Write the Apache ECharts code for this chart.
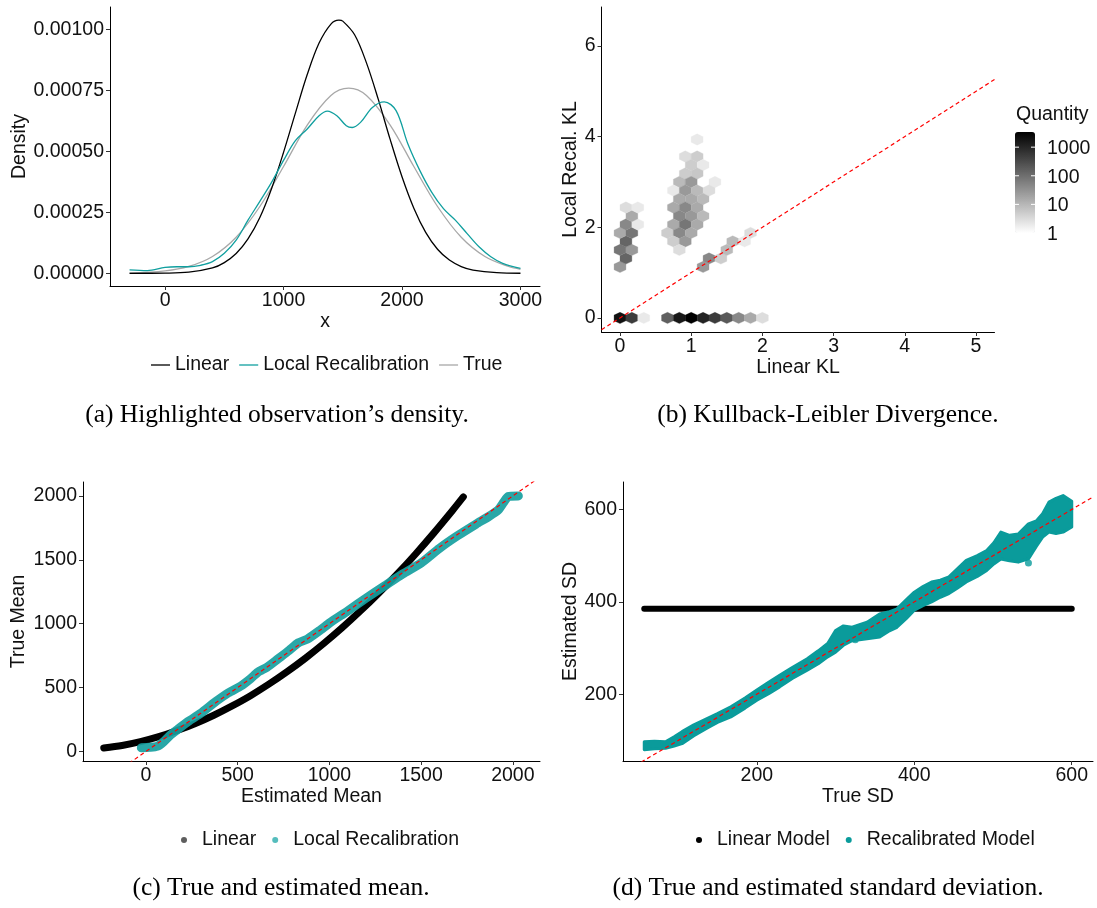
<!DOCTYPE html>
<html><head><meta charset="utf-8">
<script src="https://cdn.jsdelivr.net/npm/echarts@6/dist/echarts.min.js"></script>
<style>html,body{margin:0;padding:0;background:#fff}#c{width:1097px;height:908px}</style>
</head><body><div id="c"></div>
<script>
// ---------- Panel (a): densities ----------
const densLinearX = [-300,0,200,400,500,600,700,800,900,1000,1100,1200,1300,1400,1467,1500,1600,1700,1800,1900,2000,2100,2200,2300,2400,2500,2600,2800,3000];
const densLinearY = [0.0000000,0.0000007,0.0000045,0.000022,0.000044,0.000081,0.000141,0.000229,0.000349,0.000496,0.000657,0.000815,0.000944,0.001022,0.001038,0.001034,0.000978,0.000863,0.000713,0.000549,0.000396,0.000267,0.000168,0.0000988,0.0000542,0.0000278,0.0000134,0.0000025,0.0000003];
const densTrueX = [-300,0,200,400,600,800,1000,1200,1400,1550,1700,1900,2100,2300,2500,2700,2900,3000];
const densTrueY = [0.0000015,0.0000097,0.000028,0.000069,0.000148,0.000274,0.000438,0.000608,0.000729,0.000759,0.000729,0.000608,0.000438,0.000274,0.000148,0.000069,0.000028,0.0000167];
const densLocalX = [-300,-150,0,100,200,300,400,500,600,700,800,900,1000,1100,1200,1300,1370,1450,1530,1580,1650,1750,1850,1950,2050,2150,2250,2350,2450,2550,2650,2750,2850,3000];
const densLocalY = [0.000014,0.000011,0.000024,0.000027,0.000027,0.000033,0.000048,0.000082,0.000136,0.000218,0.000295,0.000374,0.000463,0.000544,0.000592,0.000646,0.000665,0.000646,0.000605,0.000598,0.000619,0.00068,0.000703,0.000667,0.00053,0.000422,0.000333,0.000265,0.000218,0.000163,0.000109,0.000068,0.000041,0.00002];
const aXTicks = [0,1000,2000,3000];
const aYTicks = [0,0.00025,0.0005,0.00075,0.001];

// ---------- Panel (b): hexbin KL ----------
const hexX = [0,0.1667,0.3333,0.6667,0.8333,1.0,1.1667,1.3333,1.5,1.6667,1.8333,2.0,
  0,0.0833,0,0.1667,0.0833,0,0.1667,0.0833,0.25,0.1667,0.0833,0.25,
  1.0833,0.9167,1.0833,1.0,1.1667,0.9167,1.0833,0.8333,1.0,1.3333,0.75,0.9167,1.0833,1.25,0.8333,1.0,1.1667,0.75,0.9167,1.0833,0.8333,1.0,1.1667,0.75,0.9167,1.0833,0.6667,0.8333,1.0,0.75,0.9167,0.8333,
  1.1667,1.25,1.4167,1.5,1.5833,1.75,1.8333];
const hexY = [0,0,0,0,0,0,0,0,0,0,0,0,
  1.125,1.3125,1.5,1.5,1.6875,1.875,1.875,2.0625,2.0625,2.25,2.4375,2.4375,
  3.9375,3.5625,3.5625,3.375,3.375,3.1875,3.1875,3.0,3.0,3.0,2.8125,2.8125,2.8125,2.8125,2.625,2.625,2.625,2.4375,2.4375,2.4375,2.25,2.25,2.25,2.0625,2.0625,2.0625,1.875,1.875,1.875,1.6875,1.6875,1.5,
  1.125,1.3125,1.3125,1.5,1.6875,1.6875,1.875];
const hexCount = [2000,500,2,160,1600,3400,1100,500,200,45,15,3,
  26,135,78,26,135,15,78,45,2,15,3,2,
  2,3,5,5,2,5,6,9,26,2,2,26,9,3,15,15,9,15,45,15,45,26,9,15,78,15,5,45,15,5,26,3,
  26,45,5,9,9,2,3];
const bXTicks = [0,1,2,3,4,5];
const bYTicks = [0,2,4,6];
const qtyTicks = [1,10,100,1000];

// ---------- Panel (c): means ----------
const meanLinX = [-230,-130,-30,70,170,270,370,470,570,670,770,870,970,1070,1170,1270,1370,1470,1570,1670,1730];
const meanLinY = [28,47,77,116,164,220,284,357,437,527,625,731,846,969,1101,1241,1389,1546,1711,1884,1992];
const meanLocX = [-25,20,60,95,130,170,230,300,380,450,520,570,610,660,720,780,830,880,950,1005,1100,1200,1300,1400,1500,1600,1700,1800,1870,1920,1950,1975,2030];
const meanLocY = [30,33,40,75,125,170,235,300,390,460,515,570,620,660,725,790,850,880,950,1010,1100,1200,1295,1390,1475,1590,1690,1780,1840,1890,1950,1995,2000];
const cXTicks = [0,500,1000,1500,2000];
const cYTicks = [0,500,1000,1500,2000];

// ---------- Panel (d): SDs ----------
const sdLinX = [57,600];
const sdLinY = [385,385];
const sdX     = [57,70,84,95,105,120,136,150,167,185,200,215,229,245,264,278,290,300,310,321,340,356,367,378,390,400,411,422,433,444,455,466,480,492,501,510,521,532,545,555,563,571,580,589,600];
const sdUpper = [97,98,97,108,119,134,147,158,173,192,209,226,241,258,277,294,310,338,348,345,356,374,378,385,405,421,433,443,447,454,472,490,500,511,528,551,544,547,569,575,591,616,624,630,618];
const sdLower = [80,82,83,88,93,110,126,139,151,170,187,201,216,234,252,266,281,291,306,316,320,324,336,345,364,382,392,400,410,418,430,443,455,468,482,493,489,486,493,520,540,551,548,551,562];
const sdOutX = [325,545];
const sdOutY = [318,484];
const dXTicks = [200,400,600];
const dYTicks = [200,400,600];

const TEAL = '#0a9b9b';
const FONT = 'Liberation Sans';
const FS = 19.5;
const TXT = '#111';

function xAx(idx, min, max, ticks, name, fmt){
  return {type:'value', gridIndex:idx, min, max, name, nameLocation:'middle', nameGap:25,
    nameTextStyle:{fontFamily:FONT,fontSize:FS,color:TXT},
    axisLine:{show:true,onZero:false,lineStyle:{color:'#000',width:1}},
    axisTick:{show:true,length:4,customValues:ticks,lineStyle:{color:'#333'}},
    axisLabel:{customValues:ticks,margin:5,fontFamily:FONT,fontSize:FS,color:TXT,formatter:fmt||(v=>String(v))},
    splitLine:{show:false}};
}
function yAx(idx, min, max, ticks, name, gap, fmt){
  return {type:'value', gridIndex:idx, min, max, name, nameLocation:'middle', nameGap:gap,
    nameTextStyle:{fontFamily:FONT,fontSize:FS,color:TXT},
    axisLine:{show:true,onZero:false,lineStyle:{color:'#000',width:1}},
    axisTick:{show:true,length:4,customValues:ticks,lineStyle:{color:'#333'}},
    axisLabel:{customValues:ticks,margin:6,fontFamily:FONT,fontSize:FS,color:TXT,formatter:fmt||(v=>String(v))},
    splitLine:{show:false}};
}
const zip = (xs, ys) => xs.map((x,i)=>[x, ys[i]]);

const HEX_DX = 1/6, HEX_DY = 0.1875;
const CB = {left:1015, top:132, w:20, h:101, max:3.53};
const LINE_ICON = 'path://M0,0H19V1.3H0Z';

const chart = echarts.init(document.getElementById('c'), null, {renderer:'canvas'});
const graphics = [];
[['(a) Highlighted observation\u2019s density.',277,415],['(b) Kullback-Leibler Divergence.',828,415],
 ['(c) True and estimated mean.',281,888],['(d) True and estimated standard deviation.',828,888]].forEach(c=>{
  graphics.push({type:'text', x:c[1], y:c[2], style:{text:c[0], fontFamily:'Liberation Serif', fontSize:25.5, fill:'#000', align:'center', verticalAlign:'middle'}});
});
graphics.push({type:'text', x:CB.left+1, y:115, style:{text:'Quantity', fontFamily:FONT, fontSize:FS, fill:TXT, align:'left', verticalAlign:'middle'}});
qtyTicks.forEach(v=>{
  const y = CB.top + CB.h - Math.log10(v)/CB.max*CB.h;
  graphics.push({type:'text', x:CB.left+CB.w+12, y:y+1.5, style:{text:String(v), fontFamily:FONT, fontSize:FS, fill:TXT, align:'left', verticalAlign:'middle'}});
  graphics.push({type:'line', shape:{x1:CB.left, y1:y, x2:CB.left+4, y2:y}, style:{stroke:'#fff', lineWidth:1}, z:100});
  graphics.push({type:'line', shape:{x1:CB.left+CB.w-4, y1:y, x2:CB.left+CB.w, y2:y}, style:{stroke:'#fff', lineWidth:1}, z:100});
});

const legendText = {fontFamily:FONT, fontSize:FS, color:TXT};
const option = {
  animation:false,
  backgroundColor:'#fff',
  grid:[
    {left:110, top:7, width:430, height:279},
    {left:601.5, top:7, width:393, height:325},
    {left:83, top:482, width:457, height:279},
    {left:623, top:482, width:470, height:279}
  ],
  xAxis:[
    xAx(0,-465,3165,aXTicks,'x'),
    xAx(1,-0.26,5.26,bXTicks,'Linear KL'),
    xAx(2,-343,2148,cXTicks,'Estimated Mean'),
    xAx(3,30,627,dXTicks,'True SD')
  ],
  yAxis:[
    yAx(0,-0.000052,0.001092,aYTicks,'Density',80,v=>v.toFixed(5)),
    yAx(1,-0.31,6.86,bYTicks,'Local Recal. KL',21),
    yAx(2,-74,2109,cYTicks,'True Mean',54),
    yAx(3,55.5,659.5,dYTicks,'Estimated SD',42)
  ],
  legend:[
    {data:[{name:'Linear',icon:LINE_ICON},{name:'Local Recalibration',icon:LINE_ICON},{name:'True',icon:LINE_ICON}],
     left:151, top:355, padding:0, itemWidth:19, itemHeight:14, itemGap:10, textStyle:legendText, selectedMode:false},
    {data:[{name:'c_Linear',icon:'circle',itemStyle:{color:'#5e5e5e'}},{name:'c_Local',icon:'circle',itemStyle:{color:'#55bdbd'}}],
     formatter:n=>n==='c_Linear'?'Linear':'Local Recalibration', left:181, top:830, padding:0, itemWidth:26, itemHeight:6, itemGap:16, textStyle:legendText, selectedMode:false},
    {data:[{name:'Linear Model',icon:'circle',itemStyle:{color:'#000'}},{name:'Recalibrated Model',icon:'circle',itemStyle:{color:TEAL}}],
     left:696, top:830, padding:0, itemWidth:26, itemHeight:6, itemGap:16, textStyle:legendText, selectedMode:false}
  ],
  visualMap:{type:'continuous', seriesIndex:3, dimension:2, min:0, max:CB.max, calculable:false,
    inRange:{color:['#ffffff','#000000']}, left:CB.left, top:CB.top, itemWidth:CB.w, itemHeight:CB.h, padding:0, orient:'vertical', hoverLink:false},
  graphic:graphics,
  series:[
    // (a)
    {name:'Linear', type:'line', xAxisIndex:0, yAxisIndex:0, data:zip(densLinearX,densLinearY), smooth:0.35, symbol:'none', lineStyle:{color:'#000',width:1.3}, itemStyle:{color:'#000'}},
    {name:'Local Recalibration', type:'line', xAxisIndex:0, yAxisIndex:0, data:zip(densLocalX,densLocalY), smooth:0.35, symbol:'none', lineStyle:{color:'#109f9f',width:1.3}, itemStyle:{color:'#109f9f'}, z:3},
    {name:'True', type:'line', xAxisIndex:0, yAxisIndex:0, data:zip(densTrueX,densTrueY), smooth:0.35, symbol:'none', lineStyle:{color:'#a8a8a8',width:1.3}, itemStyle:{color:'#a8a8a8'}, z:2},
    // (b)
    {name:'hex', type:'custom', xAxisIndex:1, yAxisIndex:1,
      data:hexX.map((x,i)=>[x, hexY[i], Math.log10(hexCount[i]), hexCount[i]]),
      encode:{x:0,y:1},
      renderItem:(params, api)=>{
        const x=api.value(0), y=api.value(1), hw=HEX_DX/2, hh=HEX_DY/3;
        const pts=[[x,y+2*hh],[x+hw,y+hh],[x+hw,y-hh],[x,y-2*hh],[x-hw,y-hh],[x-hw,y+hh]].map(p=>api.coord(p));
        const col = api.visual('color');
        return {type:'polygon', shape:{points:pts}, style:{fill:col, stroke:col, lineWidth:0.3}};
      }},
    {type:'line', xAxisIndex:1, yAxisIndex:1, data:[[-0.26,-0.26],[5.26,5.26]], symbol:'none', lineStyle:{color:'#ff0000',width:1.2,type:[4,3]}, z:5, silent:true},
    // (c)
    {name:'c_Linear', type:'line', xAxisIndex:2, yAxisIndex:2, data:zip(meanLinX,meanLinY), smooth:0.3, symbol:'none', lineStyle:{color:'#000',width:7,cap:'round',join:'round'}, itemStyle:{color:'#000'}, z:2},
    {name:'c_Local', type:'line', xAxisIndex:2, yAxisIndex:2, data:zip(meanLocX,meanLocY), smooth:0.2, symbol:'none', lineStyle:{color:'#17a0a0',width:9,cap:'round',join:'round',opacity:0.92}, itemStyle:{color:'#17a0a0'}, z:3},
    {type:'line', xAxisIndex:2, yAxisIndex:2, data:[[-343,-343],[2148,2148]], symbol:'none', lineStyle:{color:'#ff0000',width:1.2,type:[4,3]}, z:5, silent:true},
    // (d)
    {name:'Linear Model', type:'line', xAxisIndex:3, yAxisIndex:3, data:zip(sdLinX,sdLinY), symbol:'none', lineStyle:{color:'#000',width:6,cap:'round'}, itemStyle:{color:'#000'}, z:2},
    {name:'Recalibrated Model', type:'custom', xAxisIndex:3, yAxisIndex:3, data:[[sdX[0], sdUpper[0]]], encode:{x:0,y:1}, itemStyle:{color:TEAL}, z:3,
      renderItem:(params, api)=>{
        const up = sdX.map((x,i)=>api.coord([x, sdUpper[i]]));
        const lo = sdX.map((x,i)=>api.coord([x, sdLower[i]])).reverse();
        return {type:'polygon', shape:{points:up.concat(lo)}, style:{fill:TEAL, stroke:TEAL, lineWidth:3, lineJoin:'round'}};
      }},
    {type:'scatter', xAxisIndex:3, yAxisIndex:3, data:zip(sdOutX,sdOutY), symbolSize:7, itemStyle:{color:TEAL}, z:3, silent:true},
    {type:'line', xAxisIndex:3, yAxisIndex:3, data:[[30,30],[627,627]], symbol:'none', lineStyle:{color:'#ff0000',width:1.2,type:[4,3]}, z:5, silent:true}
  ]
};
chart.setOption(option);
</script></body></html>
